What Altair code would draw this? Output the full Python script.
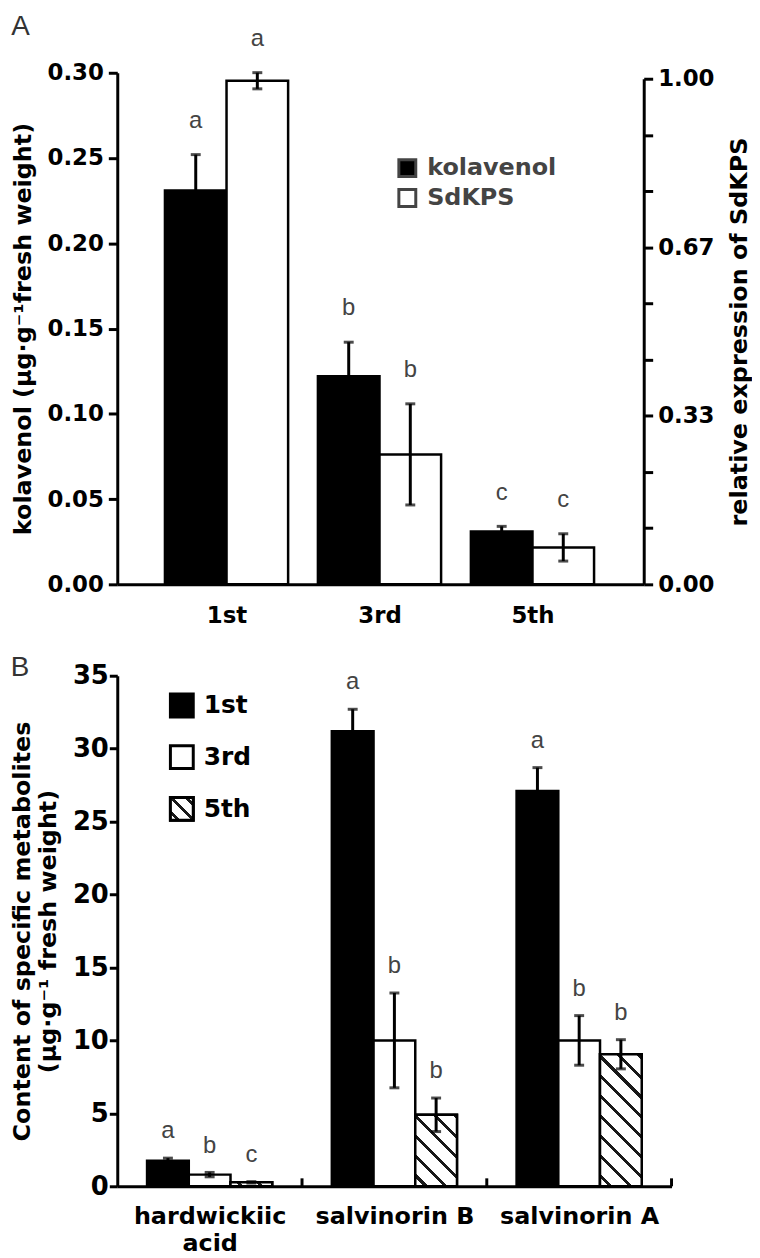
import json
import altair as alt
import pandas as pd

# ---------------- data: panel A ----------------
stages = ["1st", "3rd", "5th"]
series_a = ["kolavenol", "SdKPS"]
kolavenol = [0.231, 0.122, 0.031]
kolavenol_err = [0.021, 0.020, 0.003]
kolavenol_letters = ["a", "b", "c"]
sdkps = [0.996, 0.257, 0.073]
sdkps_err = [0.016, 0.100, 0.027]
sdkps_letters = ["a", "b", "c"]
left_ticks = [0.0, 0.05, 0.10, 0.15, 0.20, 0.25, 0.30]
right_ticks = [i / 9 for i in range(10)]

# ---------------- data: panel B ----------------
compounds = ["hardwickiic acid", "salvinorin B", "salvinorin A"]
compound_labels = [["hardwickiic", "acid"], "salvinorin B", "salvinorin A"]
content_1st = [1.75, 31.2, 27.1]
content_1st_err = [0.18, 1.5, 1.6]
content_3rd = [0.80, 10.0, 10.0]
content_3rd_err = [0.15, 3.25, 1.7]
content_5th = [0.27, 4.9, 9.05]
content_5th_err = [0.05, 1.15, 1.0]
letters_1st = ["a", "a", "a"]
letters_3rd = ["b", "b", "b"]
letters_5th = ["c", "b", "b"]
b_ticks = [0, 5, 10, 15, 20, 25, 30, 35]
b_group_edges = [0.5, 1.5, 2.5]

FONT = "DejaVu Sans"
LFONT = "Liberation Sans"

# layout (pixels)
WA, HA = 530, 515
WB, HB = 558, 514
STEP_A, BARPX_A, FIRST_A = 154.0, 62.0, 110.0   # group step, bar width, first group centre
STEP_B, BARPX_B = 186.0, 42.0

# x scales in "group units" (one unit = one group step)
A_LO = -FIRST_A / STEP_A
A_HI = A_LO + WA / STEP_A
BAR_A = BARPX_A / STEP_A
B_LO, B_HI = -0.5, 2.5
BAR_B = BARPX_B / STEP_B


def hatch(w, h, spacing=20.0, thick=4.2, color="#1a1a1a"):
    total = w + h
    k = (w + h) / (w * w + h * h)
    stops = [{"offset": 0, "color": "white"}]
    q = spacing * 0.45
    while q < total:
        a = q / total
        b = min((q + thick) / total, 1.0)
        stops += [
            {"offset": a, "color": "white"},
            {"offset": a, "color": color},
            {"offset": b, "color": color},
            {"offset": b, "color": "white"},
        ]
        q += spacing
    stops.append({"offset": 1, "color": "white"})
    return {"gradient": "linear", "x1": 0, "y1": 1, "x2": k * w, "y2": 1 - k * h, "stops": stops}


def positions(chart, group_field, groups, sub_field, subs, bar):
    n = len(subs)
    return chart.transform_calculate(
        gi=f"indexof({json.dumps(groups)}, datum.{group_field})",
        si=f"indexof({json.dumps(subs)}, datum.{sub_field})",
        x0=f"datum.gi - {n * bar / 2} + datum.si * {bar}",
        x1=f"datum.x0 + {bar}",
        xc=f"datum.x0 + {bar / 2}",
        lo="datum.value - datum.err",
        hi="datum.value + datum.err",
    )


# ---------------- panel A ----------------
dfK = pd.DataFrame({"stage": stages, "series": "kolavenol", "value": kolavenol,
                    "err": kolavenol_err, "letter": kolavenol_letters})
dfS = pd.DataFrame({"stage": stages, "series": "SdKPS", "value": sdkps,
                    "err": sdkps_err, "letter": sdkps_letters})

scaleXA = alt.Scale(domain=[A_LO, A_HI], nice=False, zero=False)
axisXA = alt.Axis(title=None, values=[0, 1, 2], ticks=False, grid=False, labelPadding=20,
                  labelFontSize=23, labelBaseline="top",
                  labelExpr=f"{json.dumps(stages)}[round(datum.value)]")
fillA = alt.Fill("series:N", scale=alt.Scale(domain=series_a, range=["black", "white"]),
                 legend=alt.Legend(title=None, orient="none", legendX=280, legendY=84,
                                   symbolType="square", symbolSize=290,
                                   symbolStrokeColor="#444444", symbolStrokeWidth=3,
                                   labelFont=FONT, labelFontWeight="bold", labelFontSize=24,
                                   labelColor="#444444", rowPadding=0, labelOffset=8,
                                   padding=0))

scaleL = alt.Scale(domain=[0, 0.30], nice=False, zero=True)
axisL = alt.Axis(title="kolavenol (μg·g⁻¹fresh weight)", values=left_ticks, format=".2f",
                 orient="left", tickSize=9, labelPadding=5, labelFontSize=23,
                 titleFontSize=24, titlePadding=12)
scaleR = alt.Scale(domain=[0, 1.0], nice=False, zero=True, range=[HA, 6])
axisR = alt.Axis(title="relative expression of SdKPS", values=right_ticks, orient="right",
                 labelExpr="round(datum.value*9) % 3 == 0 ? format(datum.value, '.2f') : ''",
                 tickSize=9, labelPadding=5, labelFontSize=23, titleFontSize=24,
                 titleAngle=270, titleBaseline="top", titlePadding=14)


def series_layer(df, scale, axis):
    base = positions(alt.Chart(df), "stage", stages, "series", series_a, BAR_A)
    bars = base.mark_bar(stroke="black", strokeWidth=2.5).encode(
        x=alt.X("x0:Q", scale=scaleXA, axis=axisXA), x2="x1:Q",
        y=alt.Y("value:Q", scale=scale, axis=axis), y2=alt.datum(0), fill=fillA)
    rule = base.mark_rule(color="black", strokeWidth=3).encode(
        x=alt.X("xc:Q", scale=scaleXA, axis=axisXA),
        y=alt.Y("lo:Q", scale=scale, axis=axis), y2="hi:Q")
    cap_hi = base.mark_tick(color="black", thickness=3, size=10, orient="horizontal").encode(
        x=alt.X("xc:Q", scale=scaleXA, axis=axisXA),
        y=alt.Y("hi:Q", scale=scale, axis=axis))
    cap_lo = base.mark_tick(color="black", thickness=3, size=10, orient="horizontal").encode(
        x=alt.X("xc:Q", scale=scaleXA, axis=axisXA),
        y=alt.Y("lo:Q", scale=scale, axis=axis))
    txt = base.mark_text(font=LFONT, fontSize=24, color="#444444", dy=-27,
                         baseline="alphabetic").encode(
        x=alt.X("xc:Q", scale=scaleXA, axis=axisXA),
        y=alt.Y("hi:Q", scale=scale, axis=axis), text="letter:N")
    return alt.layer(bars, rule, cap_hi, cap_lo, txt)


panelA = alt.layer(series_layer(dfK, scaleL, axisL),
                   series_layer(dfS, scaleR, axisR)).resolve_scale(y="independent").properties(
    width=WA, height=HA,
    title=alt.TitleParams("A", anchor="start", frame="bounds", font=LFONT, fontSize=28,
                          fontWeight="normal", color="#333333", baseline="alphabetic",
                          offset=-36))

# ---------------- panel B ----------------
rows = []
for i, c in enumerate(compounds):
    rows.append({"compound": c, "stage": "1st", "value": content_1st[i],
                 "err": content_1st_err[i], "letter": letters_1st[i]})
    rows.append({"compound": c, "stage": "3rd", "value": content_3rd[i],
                 "err": content_3rd_err[i], "letter": letters_3rd[i]})
    rows.append({"compound": c, "stage": "5th", "value": content_5th[i],
                 "err": content_5th_err[i], "letter": letters_5th[i]})
dfB = pd.DataFrame(rows)

scaleXB = alt.Scale(domain=[B_LO, B_HI], nice=False, zero=False)
axisXB = alt.Axis(title=None, values=[0, 1, 2], ticks=False, grid=False, labelPadding=18,
                  labelFontSize=24, labelBaseline="top", labelLineHeight=28,
                  labelExpr=f"{json.dumps(compound_labels)}[round(datum.value)]")
scaleB = alt.Scale(domain=[0, 35], nice=False, zero=True)
axisB = alt.Axis(title=["Content of specific metabolites", "(μg·g⁻¹ fresh weight)"],
                 values=b_ticks, orient="left", tickSize=8, labelPadding=1,
                 labelFontSize=26, titleFontSize=24, titleLineHeight=26, titlePadding=12)
fillB = alt.Fill("stage:N", scale=alt.Scale(domain=stages, range=["black", "white", "white"]),
                 legend=None)

baseB = positions(alt.Chart(dfB), "compound", compounds, "stage", stages, BAR_B)
xB0 = alt.X("x0:Q", scale=scaleXB, axis=axisXB)
xBc = alt.X("xc:Q", scale=scaleXB, axis=axisXB)
barsB = baseB.mark_bar(stroke="black", strokeWidth=2.5).encode(
    x=xB0, x2="x1:Q", y=alt.Y("value:Q", scale=scaleB, axis=axisB), y2=alt.datum(0),
    fill=fillB)
hatch_layers = []
for i, c in enumerate(compounds):
    g = hatch(BARPX_B, content_5th[i] * HB / 35.0)
    hatch_layers.append(
        baseB.transform_filter(f"datum.stage == '5th' && datum.compound == '{c}'")
        .mark_bar(stroke="black", strokeWidth=2.5)
        .encode(x=xB0, x2="x1:Q", y=alt.Y("value:Q", scale=scaleB, axis=axisB),
                y2=alt.datum(0), fill=alt.value(g)))
ruleB = baseB.mark_rule(color="black", strokeWidth=3).encode(
    x=xBc, y=alt.Y("lo:Q", scale=scaleB, axis=axisB), y2="hi:Q")
capB_hi = baseB.mark_tick(color="black", thickness=3, size=10, orient="horizontal").encode(
    x=xBc, y=alt.Y("hi:Q", scale=scaleB, axis=axisB))
capB_lo = baseB.mark_tick(color="black", thickness=3, size=10, orient="horizontal").encode(
    x=xBc, y=alt.Y("lo:Q", scale=scaleB, axis=axisB))
txtB = baseB.mark_text(font=LFONT, fontSize=24, color="#444444", dy=-20,
                       baseline="alphabetic").encode(
    x=xBc, y=alt.Y("hi:Q", scale=scaleB, axis=axisB), text="letter:N")

# small inward ticks on the x axis at the group boundaries
dfEdges = pd.DataFrame({"edge": b_group_edges})
edgesB = alt.Chart(dfEdges).mark_rule(color="black", strokeWidth=3).encode(
    x=alt.X("edge:Q", scale=scaleXB, axis=axisXB), y=alt.value(HB), y2=alt.value(HB - 8))

mainB = alt.layer(barsB, *hatch_layers, ruleB, capB_hi, capB_lo, txtB, edgesB)

dfLeg = pd.DataFrame({"stage": stages})
legY = alt.Y("stage:N", sort=stages, scale=alt.Scale(range=[30, 134], padding=0), axis=None)
legSq = alt.Chart(dfLeg).mark_point(shape="square", size=529, filled=True, opacity=1,
                                    stroke="black", strokeWidth=3).encode(
    x=alt.value(65), y=legY, fill=fillB)
legHatch = alt.Chart(dfLeg).transform_filter("datum.stage == '5th'").mark_point(
    shape="square", size=529, filled=True, opacity=1, stroke="black", strokeWidth=3).encode(
    x=alt.value(65), y=legY, fill=alt.value(hatch(23, 23, spacing=15, thick=4.0)))
legTxt = alt.Chart(dfLeg).mark_text(align="left", baseline="middle", font=FONT,
                                    fontWeight="bold", fontSize=25, color="black").encode(
    x=alt.value(87), y=legY, text="stage:N")
legendB = alt.layer(legSq, legHatch, legTxt)

panelB = alt.layer(mainB, legendB).resolve_scale(y="independent").properties(
    width=WB, height=HB,
    title=alt.TitleParams("B", anchor="start", frame="bounds", font=LFONT, fontSize=28,
                          fontWeight="normal", color="#333333", baseline="alphabetic",
                          offset=-41))

chart = alt.vconcat(panelA, panelB, spacing=27).resolve_scale(
    x="independent", fill="independent").properties(
    padding={"left": 2, "top": 0, "right": 0, "bottom": 0}
).configure_view(stroke=None).configure_axis(
    domainColor="black", domainWidth=3, tickColor="black", tickWidth=3,
    labelColor="black", titleColor="black", grid=False, labelFont=FONT,
    labelFontWeight="bold", titleFont=FONT, titleFontWeight="bold")

chart.save("out.html", embed_options={"renderer": "svg", "actions": False})
